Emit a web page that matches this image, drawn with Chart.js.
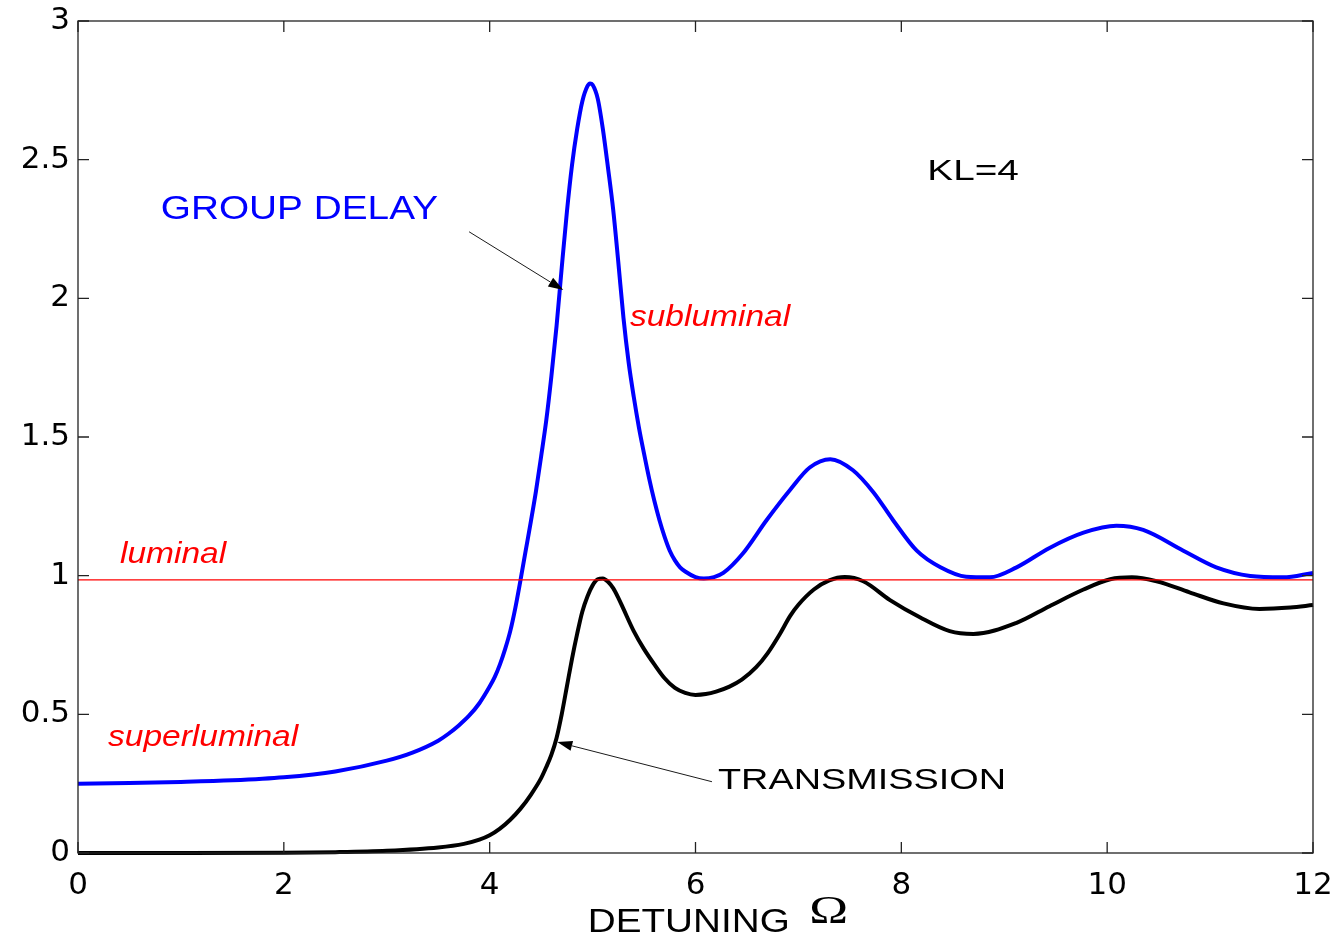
<!DOCTYPE html>
<html>
<head>
<meta charset="utf-8">
<title>Group delay and transmission vs detuning</title>
<script src="https://cdn.jsdelivr.net/npm/chart.js@4.4.1/dist/chart.umd.min.js"></script>
<style>
  html, body { margin: 0; padding: 0; background: #fff; }
  #wrap { width: 1338px; height: 940px; position: relative; }
</style>
</head>
<body>
<div id="wrap"><canvas id="delayChart"></canvas></div>
<script>
// Group delay (blue) sampled along the detuning axis
const delayOmega = [0, 0.5, 1, 1.5, 2, 2.5, 3, 3.25, 3.5, 3.6, 3.7, 3.8, 3.9, 4.0, 4.05, 4.1, 4.15, 4.2, 4.25, 4.3, 4.35, 4.4,
  4.45, 4.5, 4.55, 4.6, 4.65, 4.7, 4.75, 4.8, 4.85, 4.9, 4.95, 4.975, 5.0, 5.05, 5.1, 5.15, 5.2, 5.25, 5.3,
  5.35, 5.4, 5.45, 5.5, 5.55, 5.6, 5.65, 5.7, 5.75, 5.8, 5.85, 5.9, 6.0, 6.08, 6.18, 6.27, 6.46, 6.69, 6.92,
  7.11, 7.31, 7.53, 7.73, 7.92, 8.15, 8.38, 8.63, 8.86, 9.12, 9.44, 9.77, 10.09, 10.35, 10.74, 11.06, 11.39,
  11.71, 12.0];
const groupDelay = [0.25, 0.252, 0.256, 0.262, 0.273, 0.294, 0.333, 0.362, 0.405, 0.43, 0.46, 0.495, 0.54, 0.60, 0.635, 0.68, 0.735, 0.80, 0.885, 0.985, 1.09, 1.195,
  1.305, 1.43, 1.56, 1.72, 1.90, 2.11, 2.31, 2.48, 2.61, 2.71, 2.765, 2.775, 2.77, 2.72, 2.61, 2.47, 2.32, 2.13, 1.93,
  1.77, 1.645, 1.535, 1.44, 1.35, 1.27, 1.20, 1.14, 1.09, 1.055, 1.03, 1.015, 0.995, 0.99, 0.995, 1.01, 1.08, 1.20, 1.31,
  1.39, 1.42, 1.38, 1.30, 1.20, 1.09, 1.03, 0.996, 0.994, 1.03, 1.10, 1.155, 1.18, 1.165, 1.09, 1.03, 0.999,
  0.994, 1.01];

// Transmission (black) sampled along the detuning axis
const transOmega = [0, 1, 2, 2.5, 3, 3.5, 3.75, 3.9, 4.0, 4.1, 4.2, 4.3, 4.4, 4.5, 4.55, 4.6, 4.65, 4.7, 4.75, 4.8,
  4.85, 4.9, 4.95, 5.0, 5.05, 5.1, 5.15, 5.2, 5.25, 5.3, 5.4, 5.5, 5.6, 5.7, 5.8, 5.9, 6.0, 6.1, 6.2, 6.33,
  6.45, 6.59, 6.7, 6.82, 6.92, 7.0, 7.15, 7.30, 7.45, 7.63, 7.89, 8.18, 8.47, 8.70, 9.12, 9.44, 9.77, 10.03,
  10.24, 10.48, 10.80, 11.13, 11.48, 11.78, 12.0];
const transmission = [0, 0, 0.001, 0.003, 0.008, 0.02, 0.033, 0.048, 0.064, 0.088, 0.12, 0.16, 0.21, 0.27, 0.31, 0.355, 0.415, 0.50, 0.60, 0.70,
  0.79, 0.87, 0.925, 0.965, 0.987, 0.99, 0.978, 0.955, 0.92, 0.88, 0.80, 0.735, 0.68, 0.63, 0.595, 0.577, 0.57, 0.573, 0.582, 0.60,
  0.625, 0.67, 0.72, 0.79, 0.855, 0.895, 0.95, 0.983, 0.995, 0.98, 0.912, 0.85, 0.80, 0.79, 0.83, 0.89, 0.95, 0.987,
  0.994, 0.98, 0.94, 0.90, 0.88, 0.885, 0.894];

// horizontal "luminal" reference level
const luminalLevel = 0.985;

const xTickValues = [0, 2, 4, 6, 8, 10, 12];
const yTickValues = [0, 0.5, 1, 1.5, 2, 2.5, 3];

const SANS = '"Liberation Sans", Arial, Helvetica, sans-serif';

// text labels placed in data coordinates; width is the drawn ink width in px
const notes = [
  { text: 'GROUP DELAY', x: 0.816, y: 2.318, width: 276, font: '33px ' + SANS, color: '#0000ff' },
  { text: 'KL=4', x: 8.278, y: 2.456, width: 88, font: '30px ' + SANS, color: '#000000' },
  { text: 'subluminal', x: 5.363, y: 1.929, width: 162, font: 'italic 29px ' + SANS, color: '#ff0000' },
  { text: 'luminal', x: 0.408, y: 1.075, width: 108, font: 'italic 29px ' + SANS, color: '#ff0000' },
  { text: 'superluminal', x: 0.291, y: 0.415, width: 192, font: 'italic 29px ' + SANS, color: '#ff0000' },
  { text: 'TRANSMISSION', x: 6.218, y: 0.26, width: 286, font: '30px ' + SANS, color: '#000000' },
  { text: 'DETUNING', x: 4.975, y: -0.25, width: 197, font: '34px ' + SANS, color: '#000000' },
  { text: '\u03A9', x: 7.13, y: -0.216, width: 34, font: '40px "Liberation Serif", "Times New Roman", serif', color: '#000000' }
];

// annotation arrows: [fromX, fromY, toX, toY] in data units
const arrows = [
  [3.80, 2.24, 4.715, 2.03],
  [6.16, 0.257, 4.657, 0.40]
];

const toPoints = (xs, ys) => xs.map((x, i) => ({ x: x, y: ys[i] }));

function drawNote(ctx, xs, ys, n) {
  ctx.save();
  ctx.font = n.font;
  ctx.fillStyle = n.color;
  ctx.textAlign = 'left';
  ctx.textBaseline = 'middle';
  const m = ctx.measureText(n.text);
  const ink = m.actualBoundingBoxLeft + m.actualBoundingBoxRight;
  ctx.translate(xs.getPixelForValue(n.x), ys.getPixelForValue(n.y));
  ctx.scale(n.width / ink, 1);
  ctx.fillText(n.text, m.actualBoundingBoxLeft, 0);
  ctx.restore();
}

function drawArrow(ctx, x0, y0, x1, y1) {
  const ang = Math.atan2(y1 - y0, x1 - x0);
  const len = 15, half = 5;
  const bx = x1 - len * Math.cos(ang), by = y1 - len * Math.sin(ang);
  ctx.save();
  ctx.strokeStyle = '#1a1a1a';
  ctx.fillStyle = '#000';
  ctx.lineWidth = 1;
  ctx.beginPath();
  ctx.moveTo(x0, y0);
  ctx.lineTo(bx, by);
  ctx.stroke();
  ctx.beginPath();
  ctx.moveTo(x1, y1);
  ctx.lineTo(bx + half * Math.sin(ang), by - half * Math.cos(ang));
  ctx.lineTo(bx - half * Math.sin(ang), by + half * Math.cos(ang));
  ctx.closePath();
  ctx.fill();
  ctx.restore();
}

// box around the plot, inward tick marks on all four sides, labels and arrows
const frameAndNotes = {
  id: 'frameAndNotes',
  afterDraw(chart) {
    const ctx = chart.ctx;
    const a = chart.chartArea;
    const xs = chart.scales.x, ys = chart.scales.y;
    const tick = 11;
    ctx.save();
    ctx.strokeStyle = '#222';
    ctx.lineWidth = 1.3;
    ctx.strokeRect(a.left, a.top, a.right - a.left, a.bottom - a.top);
    ctx.beginPath();
    xs.ticks.forEach(t => {
      const px = xs.getPixelForValue(t.value);
      ctx.moveTo(px, a.bottom); ctx.lineTo(px, a.bottom - tick);
      ctx.moveTo(px, a.top); ctx.lineTo(px, a.top + tick);
    });
    ys.ticks.forEach(t => {
      const py = ys.getPixelForValue(t.value);
      ctx.moveTo(a.left, py); ctx.lineTo(a.left + tick, py);
      ctx.moveTo(a.right, py); ctx.lineTo(a.right - tick, py);
    });
    ctx.stroke();
    ctx.restore();

    arrows.forEach(r => drawArrow(ctx, xs.getPixelForValue(r[0]), ys.getPixelForValue(r[1]),
      xs.getPixelForValue(r[2]), ys.getPixelForValue(r[3])));
    notes.forEach(n => drawNote(ctx, xs, ys, n));
  }
};

const ctx = document.getElementById('delayChart').getContext('2d');
new Chart(ctx, {
  type: 'line',
  data: {
    datasets: [
      {
        label: 'Luminal',
        data: [{ x: 0, y: luminalLevel }, { x: 12, y: luminalLevel }],
        borderColor: '#ff0000',
        borderWidth: 1.3,
        pointRadius: 0
      },
      {
        label: 'Group delay',
        data: toPoints(delayOmega, groupDelay),
        borderColor: '#0000ff',
        borderWidth: 4,
        pointRadius: 0,
        cubicInterpolationMode: 'monotone',
        clip: 4
      },
      {
        label: 'Transmission',
        data: toPoints(transOmega, transmission),
        borderColor: '#000000',
        borderWidth: 4,
        pointRadius: 0,
        cubicInterpolationMode: 'monotone',
        clip: 4
      }
    ]
  },
  options: {
    responsive: true,
    maintainAspectRatio: false,
    animation: false,
    layout: { padding: { top: 21, right: 25, bottom: 0, left: 0 } },
    plugins: {
      legend: { display: false },
      tooltip: { enabled: false }
    },
    scales: {
      x: {
        type: 'linear',
        min: 0,
        max: 12,
        grid: { display: false, drawTicks: false },
        border: { display: false },
        afterBuildTicks: s => { s.ticks = xTickValues.map(v => ({ value: v })); },
        afterFit: s => { s.height = 87; s.paddingLeft = 0; s.paddingRight = 0; },
        ticks: {
          color: '#000',
          padding: 14,
          maxRotation: 0,
          font: { family: 'DejaVu Sans', size: 31 },
          callback: v => String(v)
        }
      },
      y: {
        type: 'linear',
        min: 0,
        max: 3,
        grid: { display: false, drawTicks: false },
        border: { display: false },
        afterBuildTicks: s => { s.ticks = yTickValues.map(v => ({ value: v })); },
        afterFit: s => { s.width = 78; s.paddingTop = 0; s.paddingBottom = 0; },
        ticks: {
          color: '#000',
          padding: 8,
          font: { family: 'DejaVu Sans', size: 31 },
          callback: v => String(v)
        }
      }
    }
  },
  plugins: [frameAndNotes]
});
</script>
</body>
</html>
